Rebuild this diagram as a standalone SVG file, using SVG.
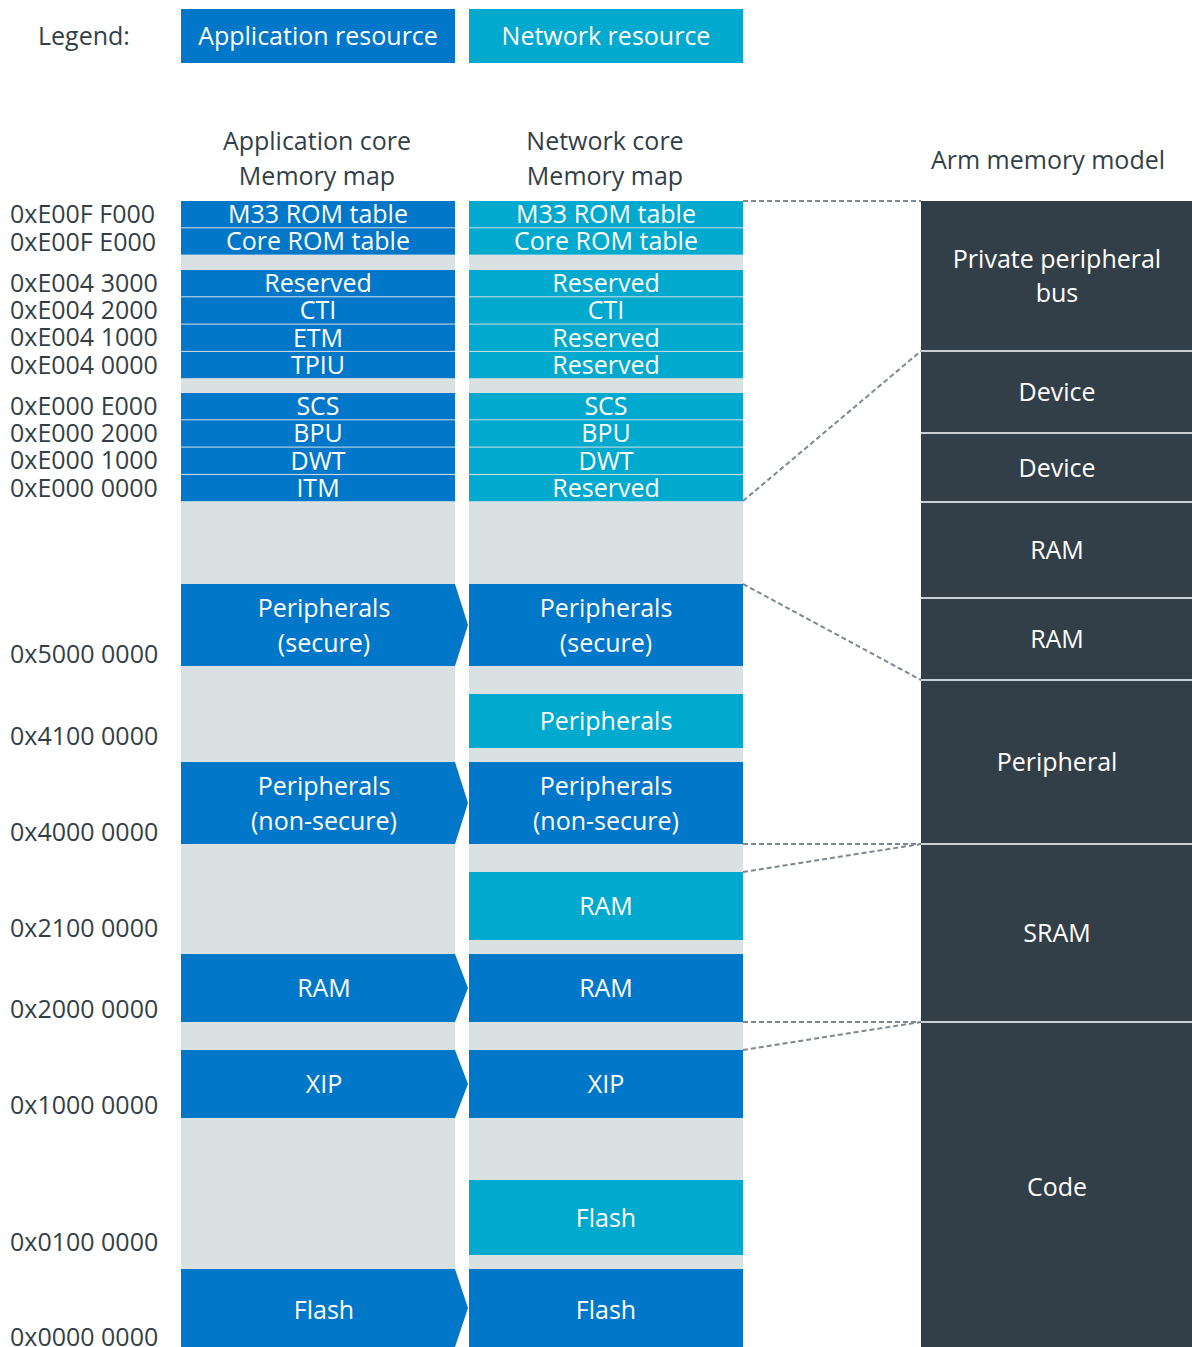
<svg xmlns="http://www.w3.org/2000/svg" width="1192" height="1347" viewBox="0 0 1192 1347">
<style>
text{font-family:"Open Sans","Noto Sans","Liberation Sans",sans-serif;font-size:25px}
.w{fill:#ffffff;text-anchor:middle}
.d{fill:#333f48}
.dc{fill:#333f48;text-anchor:middle}
.app{fill:#0077c8}
.net{fill:#00a9ce}
.bg{fill:#d9e1e2}
.dark{fill:#333f48}
.sep{stroke:#c9d0d4;stroke-width:2}
.dash{stroke:#7d8891;stroke-width:2;stroke-dasharray:5 3;fill:none}
</style>
<rect width="1192" height="1347" fill="#ffffff"/>

<g id="legend">
<text class="d" x="38" y="45">Legend:</text>
<rect class="app" x="181" y="9" width="274" height="54"/>
<text class="w" x="318" y="45">Application resource</text>
<rect class="net" x="469" y="9" width="274" height="54"/>
<text class="w" x="606" y="45">Network resource</text>
</g>

<g id="headers">
<text class="dc" x="317" y="150">Application core</text>
<text class="dc" x="317" y="185">Memory map</text>
<text class="dc" x="605" y="150">Network core</text>
<text class="dc" x="605" y="185">Memory map</text>
<text class="dc" x="1048" y="169">Arm memory model</text>
</g>

<g id="addresses">
<text class="d" x="10" y="223">0xE00F F000</text>
<text class="d" x="10" y="251">0xE00F E000</text>
<text class="d" x="10" y="292">0xE004 3000</text>
<text class="d" x="10" y="319">0xE004 2000</text>
<text class="d" x="10" y="346">0xE004 1000</text>
<text class="d" x="10" y="374">0xE004 0000</text>
<text class="d" x="10" y="415">0xE000 E000</text>
<text class="d" x="10" y="442">0xE000 2000</text>
<text class="d" x="10" y="469">0xE000 1000</text>
<text class="d" x="10" y="497">0xE000 0000</text>
<text class="d" x="10" y="663">0x5000 0000</text>
<text class="d" x="10" y="745">0x4100 0000</text>
<text class="d" x="10" y="841">0x4000 0000</text>
<text class="d" x="10" y="937">0x2100 0000</text>
<text class="d" x="10" y="1018">0x2000 0000</text>
<text class="d" x="10" y="1114">0x1000 0000</text>
<text class="d" x="10" y="1251">0x0100 0000</text>
<text class="d" x="10" y="1346">0x0000 0000</text>
</g>

<g id="app-map">
<rect class="bg" x="181" y="201" width="274" height="1146"/>
<g id="app-m33rom"><rect class="app" x="181" y="201" width="274" height="26.3"/><text class="w" x="318" y="223">M33 ROM table</text></g>
<g id="app-corerom"><rect class="app" x="181" y="228.3" width="274" height="26.3"/><text class="w" x="318" y="250.3">Core ROM table</text></g>
<g id="app-reserved"><rect class="app" x="181" y="270" width="274" height="26.3"/><text class="w" x="318" y="292">Reserved</text></g>
<g id="app-cti"><rect class="app" x="181" y="297.3" width="274" height="26.3"/><text class="w" x="318" y="319.3">CTI</text></g>
<g id="app-etm"><rect class="app" x="181" y="324.6" width="274" height="26.3"/><text class="w" x="318" y="346.6">ETM</text></g>
<g id="app-tpiu"><rect class="app" x="181" y="351.9" width="274" height="26.3"/><text class="w" x="318" y="373.9">TPIU</text></g>
<g id="app-scs"><rect class="app" x="181" y="393" width="274" height="26.3"/><text class="w" x="318" y="415">SCS</text></g>
<g id="app-bpu"><rect class="app" x="181" y="420.3" width="274" height="26.3"/><text class="w" x="318" y="442.3">BPU</text></g>
<g id="app-dwt"><rect class="app" x="181" y="447.6" width="274" height="26.3"/><text class="w" x="318" y="469.6">DWT</text></g>
<g id="app-itm"><rect class="app" x="181" y="474.9" width="274" height="26.3"/><text class="w" x="318" y="496.9">ITM</text></g>
<g id="app-periph-secure"><polygon class="app" points="181,584 455,584 468,625 455,666 181,666"/><text class="w" x="324" y="617">Peripherals</text><text class="w" x="324" y="652">(secure)</text></g>
<g id="app-periph-nonsecure"><polygon class="app" points="181,762 455,762 468,803 455,844 181,844"/><text class="w" x="324" y="795">Peripherals</text><text class="w" x="324" y="830">(non-secure)</text></g>
<g id="app-ram"><polygon class="app" points="181,954 455,954 468,988 455,1022 181,1022"/><text class="w" x="324" y="997">RAM</text></g>
<g id="app-xip"><polygon class="app" points="181,1050 455,1050 468,1084 455,1118 181,1118"/><text class="w" x="324" y="1093">XIP</text></g>
<g id="app-flash"><polygon class="app" points="181,1269 455,1269 468,1308 455,1347 181,1347"/><text class="w" x="324" y="1319">Flash</text></g>
</g>

<g id="net-map">
<rect class="bg" x="469" y="201" width="274" height="1146"/>
<g id="net-m33rom"><rect class="net" x="469" y="201" width="274" height="26.3"/><text class="w" x="606" y="223">M33 ROM table</text></g>
<g id="net-corerom"><rect class="net" x="469" y="228.3" width="274" height="26.3"/><text class="w" x="606" y="250.3">Core ROM table</text></g>
<g id="net-reserved1"><rect class="net" x="469" y="270" width="274" height="26.3"/><text class="w" x="606" y="292">Reserved</text></g>
<g id="net-cti"><rect class="net" x="469" y="297.3" width="274" height="26.3"/><text class="w" x="606" y="319.3">CTI</text></g>
<g id="net-reserved2"><rect class="net" x="469" y="324.6" width="274" height="26.3"/><text class="w" x="606" y="346.6">Reserved</text></g>
<g id="net-reserved3"><rect class="net" x="469" y="351.9" width="274" height="26.3"/><text class="w" x="606" y="373.9">Reserved</text></g>
<g id="net-scs"><rect class="net" x="469" y="393" width="274" height="26.3"/><text class="w" x="606" y="415">SCS</text></g>
<g id="net-bpu"><rect class="net" x="469" y="420.3" width="274" height="26.3"/><text class="w" x="606" y="442.3">BPU</text></g>
<g id="net-dwt"><rect class="net" x="469" y="447.6" width="274" height="26.3"/><text class="w" x="606" y="469.6">DWT</text></g>
<g id="net-reserved4"><rect class="net" x="469" y="474.9" width="274" height="26.3"/><text class="w" x="606" y="496.9">Reserved</text></g>
<g id="net-periph-secure"><rect class="app" x="469" y="584" width="274" height="82"/><text class="w" x="606" y="617">Peripherals</text><text class="w" x="606" y="652">(secure)</text></g>
<g id="net-periph"><rect class="net" x="469" y="694" width="274" height="54"/><text class="w" x="606" y="730">Peripherals</text></g>
<g id="net-periph-nonsecure"><rect class="app" x="469" y="762" width="274" height="82"/><text class="w" x="606" y="795">Peripherals</text><text class="w" x="606" y="830">(non-secure)</text></g>
<g id="net-ram"><rect class="net" x="469" y="872" width="274" height="68"/><text class="w" x="606" y="915">RAM</text></g>
<g id="net-app-ram"><rect class="app" x="469" y="954" width="274" height="68"/><text class="w" x="606" y="997">RAM</text></g>
<g id="net-xip"><rect class="app" x="469" y="1050" width="274" height="68"/><text class="w" x="606" y="1093">XIP</text></g>
<g id="net-flash"><rect class="net" x="469" y="1180" width="274" height="75"/><text class="w" x="606" y="1227">Flash</text></g>
<g id="net-app-flash"><rect class="app" x="469" y="1269" width="274" height="78"/><text class="w" x="606" y="1319">Flash</text></g>
</g>

<g id="arm-model">
<rect class="dark" x="921" y="201" width="271" height="1146"/>
<line class="sep" x1="921" y1="351" x2="1192" y2="351"/>
<line class="sep" x1="921" y1="433" x2="1192" y2="433"/>
<line class="sep" x1="921" y1="502" x2="1192" y2="502"/>
<line class="sep" x1="921" y1="598" x2="1192" y2="598"/>
<line class="sep" x1="921" y1="680" x2="1192" y2="680"/>
<line class="sep" x1="921" y1="844" x2="1192" y2="844"/>
<line class="sep" x1="921" y1="1022" x2="1192" y2="1022"/>
<g id="arm-ppb"><text class="w" x="1057" y="268">Private peripheral</text><text class="w" x="1057" y="302">bus</text></g>
<g id="arm-device1"><text class="w" x="1057" y="401">Device</text></g>
<g id="arm-device2"><text class="w" x="1057" y="477">Device</text></g>
<g id="arm-ram1"><text class="w" x="1057" y="559">RAM</text></g>
<g id="arm-ram2"><text class="w" x="1057" y="648">RAM</text></g>
<g id="arm-peripheral"><text class="w" x="1057" y="771">Peripheral</text></g>
<g id="arm-sram"><text class="w" x="1057" y="942">SRAM</text></g>
<g id="arm-code"><text class="w" x="1057" y="1196">Code</text></g>
</g>

<g id="connectors">
<line class="dash" x1="743" y1="201" x2="921" y2="201"/>
<line class="dash" x1="743" y1="501" x2="921" y2="351"/>
<line class="dash" x1="743" y1="584" x2="921" y2="680"/>
<line class="dash" x1="743" y1="844" x2="921" y2="844"/>
<line class="dash" x1="743" y1="872" x2="921" y2="844"/>
<line class="dash" x1="743" y1="1022" x2="921" y2="1022"/>
<line class="dash" x1="743" y1="1050" x2="921" y2="1022"/>
</g>
</svg>
